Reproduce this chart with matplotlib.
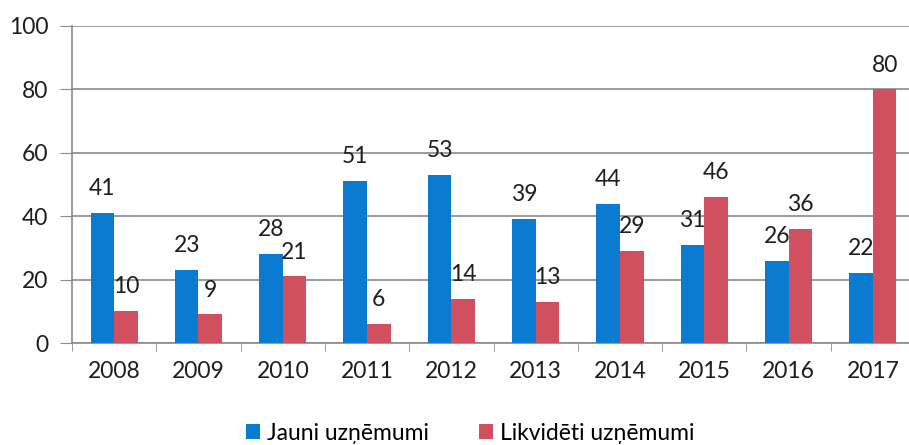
import matplotlib
matplotlib.use("Agg")
import matplotlib.pyplot as plt
import numpy as np

years = ["2008", "2009", "2010", "2011", "2012", "2013", "2014", "2015", "2016", "2017"]
jauni = [41, 23, 28, 51, 53, 39, 44, 31, 26, 22]
likvideti = [10, 9, 21, 6, 14, 13, 29, 46, 36, 80]
yticks = [0, 20, 40, 60, 80, 100]

plt.rcParams['font.family'] = ['Lato', 'DejaVu Sans']

blue = "#0A7BD0"
red = "#D0505F"
grid_c = "#8a8a8a"
txt_c = "#1e1e1e"

fig = plt.figure(figsize=(9.09, 4.45), dpi=100)
ax = fig.add_axes([72/909, (445-343)/445, (915-72)/909, (343-26)/445])

x = np.arange(len(years))
w = 0.28
b1 = ax.bar(x - w/2, jauni, w, color=blue, label="Jauni uzņēmumi", zorder=3)
b2 = ax.bar(x + w/2, likvideti, w, color=red, label="Likvidēti uzņēmumi", zorder=3)

fs = 16.5
for rect, v in zip(b1, jauni):
    ax.annotate(str(v), (rect.get_x() + rect.get_width()/2, v), xytext=(0, 10),
                textcoords="offset points", ha="center", va="bottom", fontsize=fs, color=txt_c)
for rect, v in zip(b2, likvideti):
    ax.annotate(str(v), (rect.get_x() + rect.get_width()/2, v), xytext=(0, 10),
                textcoords="offset points", ha="center", va="bottom", fontsize=fs, color=txt_c)

ax.set_xlim(-0.5, len(years) - 0.5)
ax.set_ylim(0, 100)
ax.set_yticks(yticks)
ax.set_yticklabels([str(t) for t in yticks], fontsize=fs, color=txt_c)
ax.set_xticks(x)
ax.set_xticklabels(years, fontsize=fs, color=txt_c)
ax.tick_params(axis="x", length=0, pad=13)
ax.set_xticks(np.arange(-0.5, len(years), 1), minor=True)
ax.tick_params(axis="x", which="minor", length=6, color=grid_c, direction="out")
ax.tick_params(axis="y", length=9, color=grid_c, pad=8)

ax.grid(axis="y", color=grid_c, linewidth=1.2, zorder=0)
for s in ["top", "right"]:
    ax.spines[s].set_visible(False)
ax.spines["left"].set_color(grid_c)
ax.spines["bottom"].set_color(grid_c)
ax.spines["left"].set_linewidth(1.2)
ax.spines["bottom"].set_linewidth(1.2)

fig.legend(handles=[b1, b2], loc="center", bbox_to_anchor=(470/909, 1 - 433/445), ncol=2,
           frameon=False, fontsize=fs, handlelength=0.6, handleheight=0.6,
           columnspacing=2.2, handletextpad=0.3)

fig.savefig("out.png", dpi=100)
